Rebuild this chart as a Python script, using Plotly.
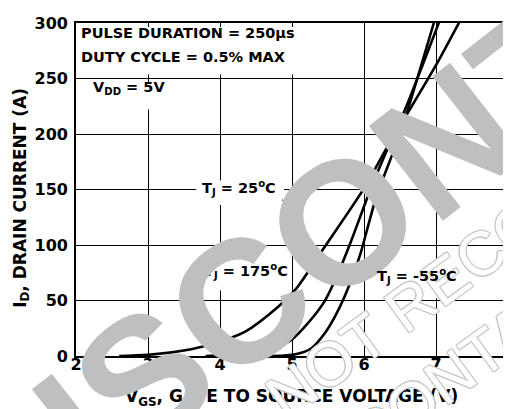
import plotly.graph_objects as go

# ---- data ----
vgs_175 = [2.6, 3.0, 3.6, 4.0, 4.35, 4.8, 5.05, 5.45, 6.0, 6.32, 6.57, 7.0, 7.35]
id_175 = [0, 1, 6, 13, 22, 44, 60, 98, 151, 188, 215, 262, 304]

vgs_25 = [3.8, 4.2, 4.5, 4.8, 5.0, 5.2, 5.45, 5.61, 5.8, 6.09, 6.35, 6.57, 7.05]
id_25 = [0, 1, 3, 8, 15, 28, 49, 70, 100, 150, 190, 222, 302]

vgs_m55 = [4.6, 4.9, 5.05, 5.27, 5.45, 5.6, 5.72, 5.86, 5.95, 6.17, 6.43, 6.57, 6.97]
id_m55 = [0, 0.5, 1.5, 7, 20, 36, 52, 75, 92, 143, 188, 214, 300]

x_ticks = [2, 3, 4, 5, 6, 7, 8]
y_ticks = [0, 50, 100, 150, 200, 250, 300]

FONT = "DejaVu Sans"
GRAY = "#bebfc1"
OUT = "#c6c6c6"

fig = go.Figure()
for xs, ys in [(vgs_175, id_175), (vgs_25, id_25), (vgs_m55, id_m55)]:
    fig.add_trace(go.Scatter(x=xs, y=ys, mode="lines",
                             line=dict(color="black", width=2.6, shape="spline", smoothing=0.8),
                             showlegend=False, hoverinfo="skip", cliponaxis=True))

axis_common = dict(showgrid=True, gridcolor="black", gridwidth=1.4,
                   showline=True, linecolor="black", linewidth=1.6, mirror=True,
                   zeroline=False, ticks="",
                   tickfont=dict(family=FONT, size=16, color="black", weight="bold"))

fig.update_xaxes(range=[2, 8], tickvals=x_ticks, ticktext=[str(v) for v in x_ticks],
                 ticklabelstandoff=-7, **axis_common)
fig.update_yaxes(range=[0, 300], tickvals=y_ticks, ticktext=[str(v) for v in y_ticks],
                 ticklabelstandoff=3, **axis_common)

white = dict(type="rect", xref="x", yref="y", fillcolor="white", line=dict(width=0), layer="between")
fig.add_shape(x0=2.02, x1=5.45, y0=253.5, y1=296.5, **white)
fig.add_shape(x0=2.02, x1=3.65, y0=222, y1=246.5, **white)
fig.add_shape(x0=3.67, x1=4.89, y0=136, y1=158, **white)
fig.add_shape(x0=3.75, x1=4.96, y0=59, y1=88, **white)
fig.add_shape(x0=6.16, x1=7.33, y0=52, y1=82, **white)
fig.add_shape(type="line", xref="x", yref="y", x0=4.86, y0=141, x1=4.97, y1=134,
              line=dict(color="black", width=1), layer="above")

lab = dict(family=FONT, size=14.5, color="black", weight="bold")
def ann(text, x, y, xref="x", yref="y", xanchor="center", font=lab, angle=0):
    fig.add_annotation(text=text, x=x, y=y, xref=xref, yref=yref, xanchor=xanchor,
                       yanchor="middle", showarrow=False, font=font, textangle=angle)

tfont = dict(family=FONT, size=17, color="black", weight="bold")
ann("V<sub>GS</sub>, GATE TO SOURCE VOLTAGE (V)", 0.498, -0.125, "paper", "paper", font=tfont)
ann("I<sub>D</sub>, DRAIN CURRENT (A)", -0.128, 0.474, "paper", "paper", font=tfont, angle=-90)
ann("T<sub>J</sub> = 175<sup>o</sup>C", 4.36, 77)

# watermarks
ann("DISCONTINUED", 0.946, 0.733, "paper", "paper",
    font=dict(family="Liberation Sans", size=175, color=GRAY, weight="bold"), angle=-38)
sh = ", ".join(f"{dx}px {dy}px 0 {OUT}" for dx, dy in
               [(1, 0), (-1, 0), (0, 1), (0, -1), (1, 1), (-1, -1), (1, -1), (-1, 1)])
ofont = dict(family="Liberation Sans", size=62, color="white", shadow=sh)
ann("NOT RECOMMENDED", 1.062, 0.425, "paper", "paper", font=ofont, angle=-36)
ann("CONTACT OUR", 1.07, 0.13, "paper", "paper", font=ofont, angle=-36)

ann("PULSE DURATION = 250μs", 0.007, 0.97, "paper", "paper", "left")
ann("DUTY CYCLE = 0.5% MAX", 0.007, 0.899, "paper", "paper", "left")
ann("V<sub>DD</sub> = 5V", 0.035, 0.805, "paper", "paper", "left")
ann("T<sub>J</sub> = 25<sup>o</sup>C", 4.27, 151.5)
ann("T<sub>J</sub> = -55<sup>o</sup>C", 6.74, 72)

fig.update_layout(width=511, height=409, margin=dict(l=68, r=5, t=15, b=61),
                  paper_bgcolor="white", plot_bgcolor="white", showlegend=False)
fig.write_html("out.html")
